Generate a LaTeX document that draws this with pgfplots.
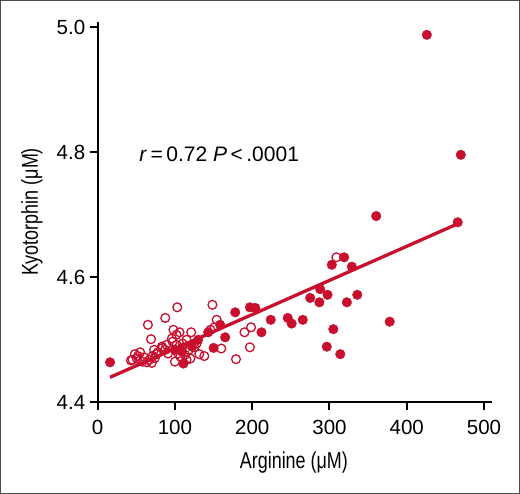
\documentclass[border=0pt]{standalone}
\usepackage{pgfplots}
\pgfplotsset{compat=1.18}
\usepackage{fontspec}
\setmainfont{Liberation Sans}
\newfontfamily\condfont{Liberation Sans}[FakeStretch=0.78]
\definecolor{bloodred}{RGB}{200,16,46}

% open circles (lower arginine group)
\pgfplotstableread{
x y
309 4.632
148.5 4.556
154 4.532
103 4.552
87.5 4.535
65 4.524
69 4.501
98 4.516
106 4.512
121 4.512
97 4.497
190 4.512
198.5 4.520
197 4.488
160 4.486
179 4.469
138 4.474
131.5 4.477
100 4.465
83 4.489
87 4.484
76 4.477
71 4.474
67 4.468
63.5 4.464
58 4.465
50.5 4.470
45 4.468
43 4.467
55 4.480
48 4.477
52 4.474
73 4.484
78 4.480
110 4.494
115 4.500
118 4.484
113 4.476
115 4.468
107 4.473
96 4.502
102 4.508
125 4.488
128 4.494
146 4.516
151 4.520
70 4.463
74 4.471
84 4.487
89 4.492
102 4.492
109 4.487
91 4.478
60 4.472
120 4.470
104 4.478
}\opendata

% filled circles
\pgfplotstableread{
x y
16 4.464
426 4.988
470 4.796
360.5 4.698
466 4.688
319 4.632
303 4.620
329 4.617
288 4.581
297.5 4.572
275 4.567
287 4.560
336 4.572
322.5 4.560
378 4.529
265.5 4.532
246 4.535
251 4.526
224 4.532
212 4.512
305 4.517
296.5 4.489
314 4.477
197 4.552
204 4.551
178 4.544
165 4.504
158.5 4.524
150 4.487
143 4.512
130 4.500
111 4.462
122 4.489
100 4.484
109 4.481
}\filleddata

\begin{document}
\begin{tikzpicture}[x=1pt,y=1pt]
\path[use as bounding box] (0,0) rectangle (520,494);
\begin{axis}[
  at={(97.7pt,91.7pt)}, anchor=south west,
  scale only axis,
  width=394pt, height=380.6pt,
  xmin=0, xmax=510, ymin=4.4, ymax=5.009,
  axis x line=bottom, axis y line=left,
  axis line style={-, line width=2pt, black},
  xtick={0,100,...,500},
  ytick={4.4,4.6,4.8,5.0},
  tick style={line width=2pt, black},
  major tick length=8pt,
  tick align=outside,
  /pgf/number format/assume math mode=true,
  font=\fontsize{20.5}{24}\selectfont,
  yticklabel style={/pgf/number format/fixed, /pgf/number format/precision=1,
    /pgf/number format/fixed zerofill, xshift=-1pt},
  xticklabel style={/pgf/number format/1000 sep={}, yshift=-6pt},
  xlabel={\condfont\fontsize{23}{26}\selectfont Arginine (μM)},
  ylabel={\condfont\fontsize{23}{26}\selectfont Kyotorphin (μM)},
  xlabel style={at={(axis description cs:0.498,-0.1587)}, anchor=center},
  ylabel style={at={(axis description cs:-0.1668,0.5)}, anchor=center},
  clip=false,
]
\addplot[only marks, mark=o, mark size=4.4pt, bloodred, line width=1.3pt] table {\opendata};
\addplot[only marks, mark=*, mark size=4.8pt, draw=none, fill=bloodred, mark options={draw=bloodred, fill=bloodred}] table {\filleddata};
\addplot[bloodred, line width=3.3pt, no marks] coordinates {(16,4.440) (463,4.684)};
\node[anchor=base west, inner sep=0pt, font=\fontsize{21}{24}\selectfont] at (axis cs:53.8,4.785)
  {\textit{r}\,=\,0.72 \textit{P}\,<\,.0001};
\end{axis}
\draw[line width=1pt, black!70] (0.5,0.5) rectangle (519.5,493.5);
\end{tikzpicture}
\end{document}
